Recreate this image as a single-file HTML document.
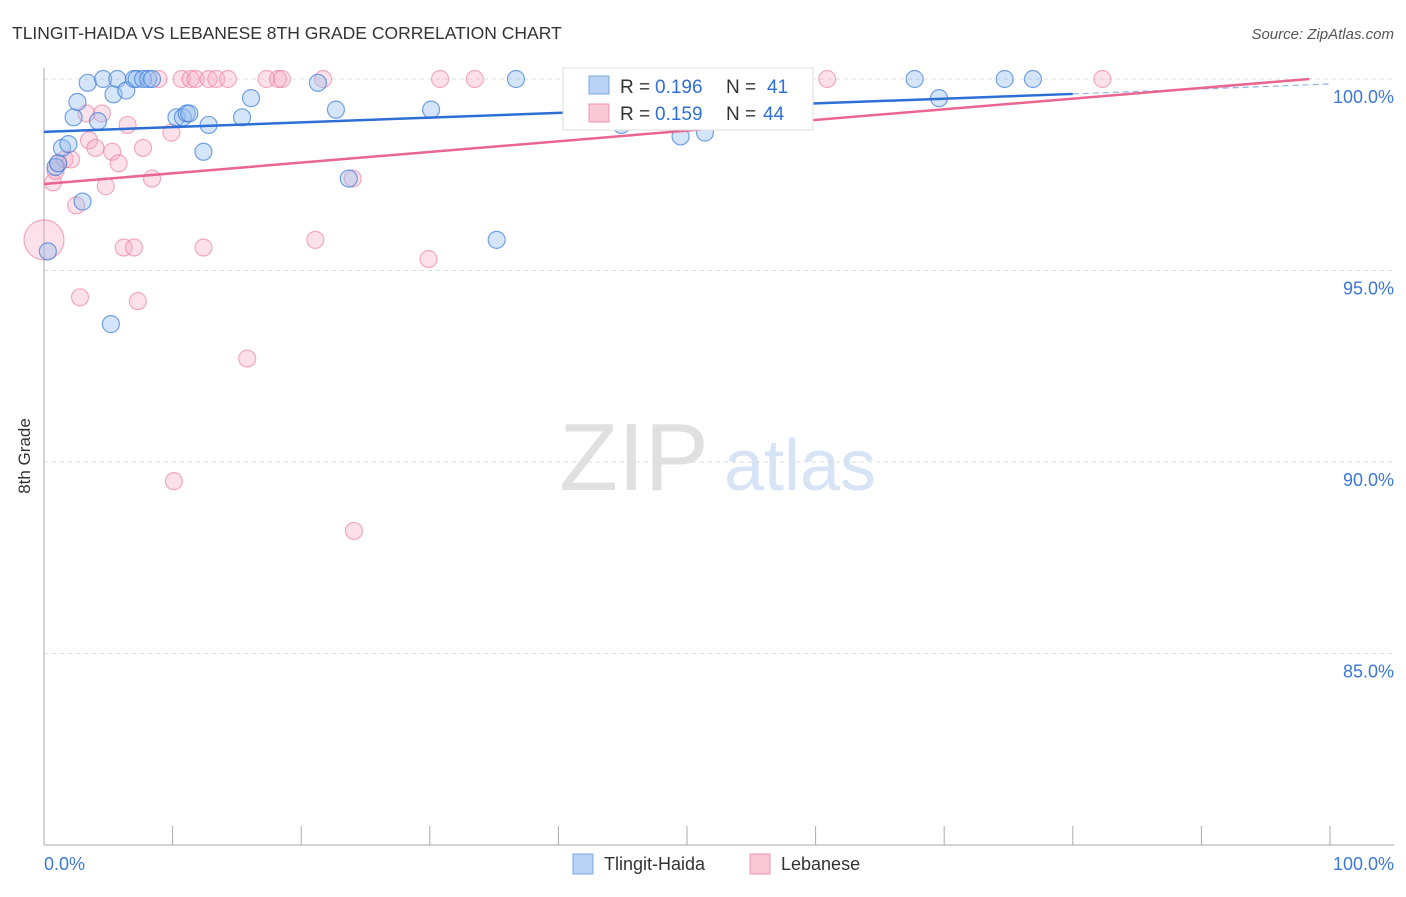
<!DOCTYPE html>
<html><head><meta charset="utf-8"><style>
body{margin:0;background:#fff;font-family:"Liberation Sans",sans-serif;}
svg text{font-family:"Liberation Sans",sans-serif;}
</style></head><body>
<svg id="chart" width="1406" height="892">
<text x="12" y="39" font-size="17.5" fill="#333">TLINGIT-HAIDA VS LEBANESE 8TH GRADE CORRELATION CHART</text>
<text x="1394" y="39" font-size="15" fill="#555" font-style="italic" text-anchor="end">Source: ZipAtlas.com</text>
<text x="30" y="456" font-size="17" fill="#333" transform="rotate(-90 30 456)" text-anchor="middle">8th Grade</text>
<g><text x="634" y="490" font-size="96" fill="#e0e0e0" font-family="Liberation Serif" text-anchor="middle">ZIP</text><text x="800" y="490" font-size="72" fill="#d6e4f5" text-anchor="middle">atlas</text></g>
<g id="grid"></g><g id="axes"></g><g id="pts"></g><g id="lines"></g>
<g>
<rect x="563" y="68" width="250" height="62" fill="#fff" stroke="#ddd"/>
<rect x="589" y="76" width="20" height="18" fill="#b8d3f5" stroke="#7aa8e3"/>
<text x="620" y="93" font-size="19" fill="#333">R = </text>
<text x="655" y="93" font-size="19" fill="#2f6fd6">0.196</text>
<text x="726" y="93" font-size="19" fill="#333">N =</text>
<text x="767" y="93" font-size="19" fill="#2f6fd6">41</text>
<rect x="589" y="104" width="20" height="18" fill="#f9c9d7" stroke="#ee93b0"/>
<text x="620" y="120" font-size="19" fill="#333">R = </text>
<text x="655" y="120" font-size="19" fill="#2f6fd6">0.159</text>
<text x="726" y="120" font-size="19" fill="#333">N =</text>
<text x="763" y="120" font-size="19" fill="#2f6fd6">44</text>
</g>
<g>
<rect x="573" y="854" width="20" height="20" fill="#b8d3f5" stroke="#7aa8e3"/>
<text x="604" y="870" font-size="18" fill="#333">Tlingit-Haida</text>
<rect x="750" y="854" width="20" height="20" fill="#f9c9d7" stroke="#ee93b0"/>
<text x="781" y="870" font-size="18" fill="#333">Lebanese</text>
</g>
<text x="44" y="870" font-size="18" fill="#3b78d8">0.0%</text>
<text x="1394" y="870" font-size="18" fill="#3b78d8" text-anchor="end">100.0%</text>
</svg>
<script>
const yTicks=[100,95,90,85];
const xTicks=[0,10,20,30,40,50,60,70,80,90,100];
const blueX=[0.3,0.9,1.1,1.4,1.9,2.3,2.6,3.0,3.4,4.2,4.6,5.2,5.4,5.7,6.4,7.0,7.2,7.7,8.1,8.4,10.3,10.8,11.1,11.3,12.4,12.8,15.4,16.1,21.3,22.7,23.7,30.1,35.2,36.7,44.9,49.5,51.4,67.7,69.6,74.7,76.9];
const blueY=[95.5,97.7,97.8,98.2,98.3,99.0,99.4,96.8,99.9,98.9,100,93.6,99.6,100,99.7,100,100,100,100,100,99.0,99.0,99.1,99.1,98.1,98.8,99.0,99.5,99.9,99.2,97.4,99.2,95.8,100,98.8,98.5,98.6,100,99.5,100,100];
const pinkX=[0.0,0.7,0.9,1.1,1.6,2.1,2.5,2.8,3.3,3.5,4.0,4.5,4.8,5.3,5.8,6.2,6.5,7.0,7.3,7.7,8.4,8.9,9.9,10.1,10.7,11.4,11.8,12.4,12.8,13.4,14.3,15.8,17.3,18.2,18.5,21.1,21.7,24.0,24.1,29.9,30.8,33.5,60.9,82.3];
const pinkY=[95.8,97.3,97.6,97.8,97.9,97.9,96.7,94.3,99.1,98.4,98.2,99.1,97.2,98.1,97.8,95.6,98.8,95.6,94.2,98.2,97.4,100,98.6,89.5,100,100,100,95.6,100,100,100,92.7,100,100,100,95.8,100,97.4,88.2,95.3,100,100,100,100];
const blueFit=[98.62,99.61,99.87];
const pinkFit=[97.26,100.0];
const X0=44,X1=1330,Y100=79,PX5=191.5;
const sx=v=>X0+(X1-X0)*v/100, sy=v=>Y100+(100-v)/5*PX5;
const NS='http://www.w3.org/2000/svg';
function mk(tag,attrs,parent){const e=document.createElementNS(NS,tag);for(const k in attrs)e.setAttribute(k,attrs[k]);document.getElementById(parent).appendChild(e);return e;}
yTicks.forEach(t=>{
 const l=mk('line',{x1:X0,x2:1394,y1:sy(t),y2:sy(t),stroke:'#ddd','stroke-dasharray':'4,4'},'grid');
 
 
 const tx=mk('text',{x:1394,y:sy(t)+24,'font-size':18,fill:'#3b78d8','text-anchor':'end'},'grid');
 tx.textContent=t.toFixed(1)+'%';
 
 
});
const ya=mk('line',{x1:X0,x2:X0,y1:68,y2:845,stroke:'#aaa'},'axes');


const xa=mk('line',{x1:X0,x2:1394,y1:845,y2:845,stroke:'#aaa'},'axes');


xTicks.forEach(t=>{
 const l=mk('line',{x1:sx(t),x2:sx(t),y1:826,y2:845,stroke:'#aaa'},'axes');
 
 
});
pinkX.forEach((x,i)=>{
 const c=mk('circle',{cx:sx(x),cy:sy(pinkY[i]),r:i==0?20:8.5,fill:'rgba(246,170,195,0.35)',stroke:'rgba(236,120,155,0.6)','stroke-width':1.2},'pts');
 
 
});
blueX.forEach((x,i)=>{
 const c=mk('circle',{cx:sx(x),cy:sy(blueY[i]),r:8.5,fill:'rgba(150,190,240,0.4)',stroke:'rgba(60,125,215,0.7)','stroke-width':1.2},'pts');
 
 
});
const bl=mk('line',{x1:sx(0),y1:sy(blueFit[0]),x2:sx(80),y2:sy(blueFit[1]),stroke:'#2e6fd6','stroke-width':2.5},'lines');


const bd=mk('line',{x1:sx(80),y1:sy(blueFit[1]),x2:sx(100),y2:sy(blueFit[2]),stroke:'#8fb3e8','stroke-width':1.2,'stroke-dasharray':'6,4'},'lines');


const pl=mk('line',{x1:sx(0),y1:sy(pinkFit[0]),x2:sx(98.4),y2:sy(pinkFit[1]),stroke:'#e8668f','stroke-width':2.5},'lines');


</script>
</body></html>
